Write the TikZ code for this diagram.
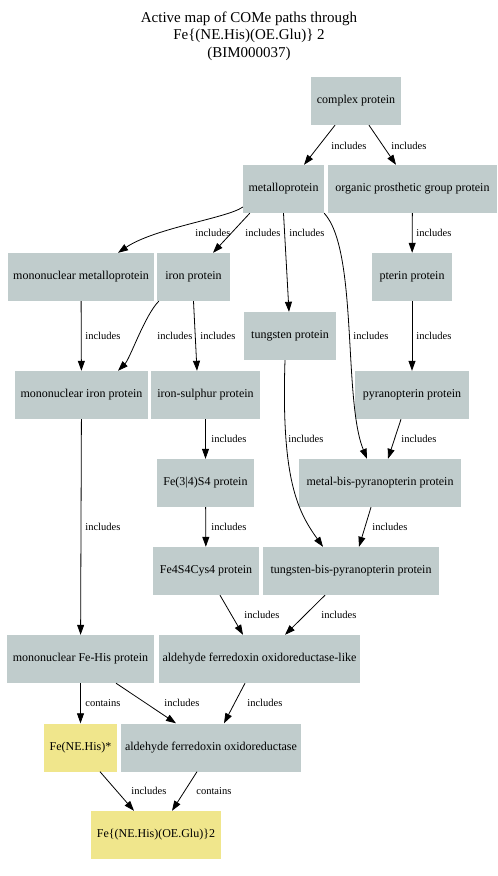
\documentclass[tikz,border=0pt]{standalone}
\usepackage{fontspec}
\setmainfont{Liberation Serif}
\usetikzlibrary{arrows.meta,calc}
\definecolor{protgray}{HTML}{C0CCCC}
\definecolor{ligandyellow}{HTML}{F0E68C}

\begin{document}
\begin{tikzpicture}[x=1pt,y=-1pt,
        prot/.style={rectangle, fill=protgray, minimum height=48pt, inner sep=0pt, font=\fontsize{12}{14}\selectfont},
        ligand/.style={prot, fill=ligandyellow},
        lbl/.style={anchor=west, inner sep=0pt, font=\fontsize{10.5}{12}\selectfont},
        edge/.style={-{Triangle[length=10pt,width=7pt]}, line width=0.8pt}
        ]
        \useasboundingbox (0,0) rectangle (498,876);
        % Title
        \node[align=center, font=\fontsize{15}{17.5}\selectfont] (title) at (249,36) {Active map of COMe paths through\\Fe\{(NE.His)(OE.Glu)\} 2\\(BIM000037)};

        % Protein nodes
        \node[prot, minimum width=90pt] (cplx) at (356,101) {complex protein};
        \node[prot, minimum width=81pt] (metal) at (283.5,189) {metalloprotein};
        \node[prot, minimum width=169pt] (organic) at (412.5,189) {organic prosthetic group protein};
        \node[prot, minimum width=146pt] (mmetal) at (81,277) {mononuclear metalloprotein};
        \node[prot, minimum width=73pt] (ironp) at (193.5,277) {iron protein};
        \node[prot, minimum width=80pt] (pterin) at (412,277) {pterin protein};
        \node[prot, minimum width=92pt] (tungsten) at (290,336) {tungsten protein};
        \node[prot, minimum width=133pt] (mironp) at (81.5,395) {mononuclear iron protein};
        \node[prot, minimum width=109pt] (fes) at (205.5,395) {iron-sulphur protein};
        \node[prot, minimum width=114pt] (pyran) at (412,395) {pyranopterin protein};
        \node[prot, minimum width=97pt] (fe34) at (205.5,483) {Fe(3|4)S4 protein};
        \node[prot, minimum width=162pt] (mbis) at (380,483) {metal-bis-pyranopterin protein};
        \node[prot, minimum width=106pt] (fe4s4) at (206,571) {Fe4S4Cys4 protein};
        \node[prot, minimum width=176pt] (wbis) at (351,571) {tungsten-bis-pyranopterin protein};
        \node[prot, minimum width=147pt] (mfehis) at (80.5,659) {mononuclear Fe-His protein};
        \node[prot, minimum width=201pt] (aforl) at (259.5,659) {aldehyde ferredoxin oxidoreductase-like};
        \node[prot, minimum width=180pt] (afor) at (211,747.5) {aldehyde ferredoxin oxidoreductase};

        % Site nodes
        \node[ligand, minimum width=73pt] (fenehis) at (80.5,747.5) {Fe(NE.His)*};
        \node[ligand, minimum width=130pt] (final) at (156,835) {Fe\{(NE.His)(OE.Glu)\}2};

        % Connections
        \draw[edge] ([xshift=-21pt]cplx.south) -- ([xshift=20.5pt]metal.north) node[lbl] at (331,146) {includes};
        \draw[edge] ([xshift=13pt]cplx.south) -- ([xshift=-16.5pt]organic.north) node[lbl] at (391,146) {includes};

        \draw[edge] ([yshift=-18pt]metal.west) .. controls +(-15,11) and +(37,-25) .. ([xshift=37pt]mmetal.north) node[lbl] at (195,233) {includes};
        \draw[edge] ([xshift=7pt]metal.south west) -- ([xshift=19.5pt]ironp.north) node[lbl] at (245,233) {includes};
        \draw[edge] (metal.south) -- ([xshift=-1pt]tungsten.north) node[lbl] at (289,233) {includes};
        \draw[edge] (metal.south east) .. controls +(34,37) and +(-24,-59) .. ([xshift=-13pt]mbis.north) node[lbl] at (353,336) {includes};

        \draw[edge] (organic) -- (pterin) node[lbl] at (416,233) {includes};
        \draw[edge] (pterin) -- (pyran) node[lbl] at (416,336) {includes};
        \draw[edge] ([xshift=-11pt]pyran.south) -- ([xshift=8pt]mbis.north) node[lbl] at (401,439) {includes};
        \draw[edge] ([xshift=-9pt]mbis.south) -- ([xshift=8pt]wbis.north) node[lbl] at (372,527) {includes};
        \draw[edge] ([xshift=-5pt]tungsten.south) .. controls +(-4,120) and +(-25,-35) .. ([xshift=-28pt]wbis.north) node[lbl] at (288,439) {includes};

        \draw[edge] ([xshift=2pt]ironp.south west) .. controls +(-14,14) and +(12,-12) .. ([xshift=36.5pt]mironp.north) node[lbl] at (157,336) {includes};
        \draw[edge] (ironp.south) -- ([xshift=-8.5pt]fes.north) node[lbl] at (200,336) {includes};
        \draw[edge] (mmetal) -- (mironp) node[lbl] at (85,336) {includes};

        \draw[edge] (fes) -- (fe34) node[lbl] at (211,439) {includes};
        \draw[edge] (fe34) -- (fe4s4) node[lbl] at (211,527) {includes};
        \draw[edge] ([xshift=14pt]fe4s4.south) -- ([xshift=-16.5pt]aforl.north) node[lbl] at (244,615) {includes};
        \draw[edge] ([xshift=-26pt]wbis.south) -- ([xshift=25.5pt]aforl.north) node[lbl] at (321,615) {includes};

        \draw[edge] (mironp) -- (mfehis) node[lbl] at (85,527) {includes};
        \draw[edge] (mfehis) -- (fenehis) node[lbl] at (85,703) {contains};
        \draw[edge] ([xshift=35.5pt]mfehis.south) -- ([xshift=-35pt]afor.north) node[lbl] at (164,703) {includes};
        \draw[edge] ([xshift=-14.5pt]aforl.south) -- ([xshift=13pt]afor.north) node[lbl] at (247,703) {includes};
        \draw[edge] ([xshift=19.5pt]fenehis.south) -- ([xshift=-22pt]final.north) node[lbl] at (131,791) {includes};
        \draw[edge] ([xshift=-14pt]afor.south) -- ([xshift=16pt]final.north) node[lbl] at (196,791) {contains};
\end{tikzpicture}
\end{document}
